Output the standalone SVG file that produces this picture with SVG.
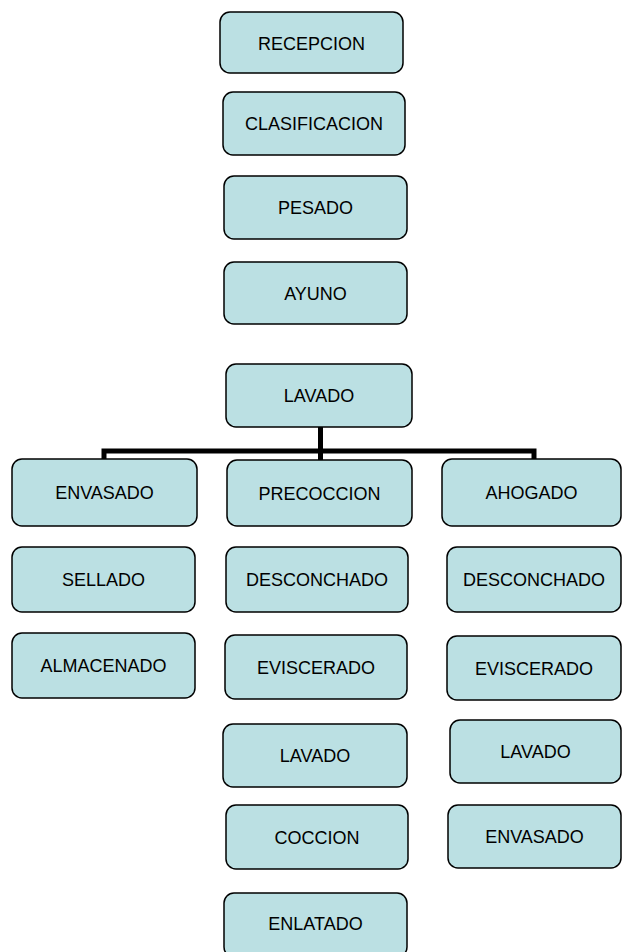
<svg xmlns="http://www.w3.org/2000/svg" width="622" height="952" viewBox="0 0 622 952">
<style>
.b{fill:#bbe0e3;stroke:#000;stroke-width:1.5}
.t{font-family:"Liberation Sans",Arial,sans-serif;font-size:18px;fill:#000;text-anchor:middle}
.c{fill:none;stroke:#000;stroke-width:5;stroke-linejoin:miter}
</style>
<rect width="622" height="952" fill="#fff"/>
<g id="connectors">
<path class="c" d="M320.5,427 V460"/>
<path class="c" d="M104,459 V451 H534 V459"/>
</g>
<g id="recepcion"><rect class="b" x="220" y="12" width="183" height="61" rx="10"/><text class="t" x="311.5" y="49.5">RECEPCION</text></g>
<g id="clasificacion"><rect class="b" x="223" y="92" width="182" height="63" rx="10"/><text class="t" x="314" y="130">CLASIFICACION</text></g>
<g id="pesado"><rect class="b" x="224" y="176" width="183" height="63" rx="10"/><text class="t" x="315.5" y="214">PESADO</text></g>
<g id="ayuno"><rect class="b" x="224" y="262" width="183" height="62" rx="10"/><text class="t" x="315.5" y="299.5">AYUNO</text></g>
<g id="lavado"><rect class="b" x="226" y="364" width="186" height="63" rx="10"/><text class="t" x="319" y="402">LAVADO</text></g>
<g id="envasado"><rect class="b" x="12" y="459" width="185" height="67" rx="10"/><text class="t" x="104.5" y="498.5">ENVASADO</text></g>
<g id="sellado"><rect class="b" x="12" y="547" width="183" height="65" rx="10"/><text class="t" x="103.5" y="586">SELLADO</text></g>
<g id="almacenado"><rect class="b" x="12" y="633" width="183" height="65" rx="10"/><text class="t" x="103.5" y="672">ALMACENADO</text></g>
<g id="precoccion"><rect class="b" x="227" y="460" width="185" height="66" rx="10"/><text class="t" x="319.5" y="499.5">PRECOCCION</text></g>
<g id="desconchado1"><rect class="b" x="226" y="547" width="182" height="65" rx="10"/><text class="t" x="317" y="586">DESCONCHADO</text></g>
<g id="eviscerado1"><rect class="b" x="225" y="635" width="182" height="64" rx="10"/><text class="t" x="316" y="673.5">EVISCERADO</text></g>
<g id="lavado2"><rect class="b" x="223" y="724" width="184" height="63" rx="10"/><text class="t" x="315" y="762">LAVADO</text></g>
<g id="coccion"><rect class="b" x="226" y="805" width="182" height="64" rx="10"/><text class="t" x="317" y="843.5">COCCION</text></g>
<g id="enlatado"><rect class="b" x="224" y="893" width="183" height="64" rx="10"/><text class="t" x="315.5" y="929.5">ENLATADO</text></g>
<g id="ahogado"><rect class="b" x="442" y="459" width="179" height="67" rx="10"/><text class="t" x="531.5" y="498.5">AHOGADO</text></g>
<g id="desconchado2"><rect class="b" x="447" y="547" width="174" height="65" rx="10"/><text class="t" x="534" y="586">DESCONCHADO</text></g>
<g id="eviscerado2"><rect class="b" x="447" y="636" width="174" height="64" rx="10"/><text class="t" x="534" y="674.5">EVISCERADO</text></g>
<g id="lavado3"><rect class="b" x="450" y="720" width="171" height="63" rx="10"/><text class="t" x="535.5" y="758">LAVADO</text></g>
<g id="envasado2"><rect class="b" x="448" y="805" width="173" height="63" rx="10"/><text class="t" x="534.5" y="843">ENVASADO</text></g>
</svg>
